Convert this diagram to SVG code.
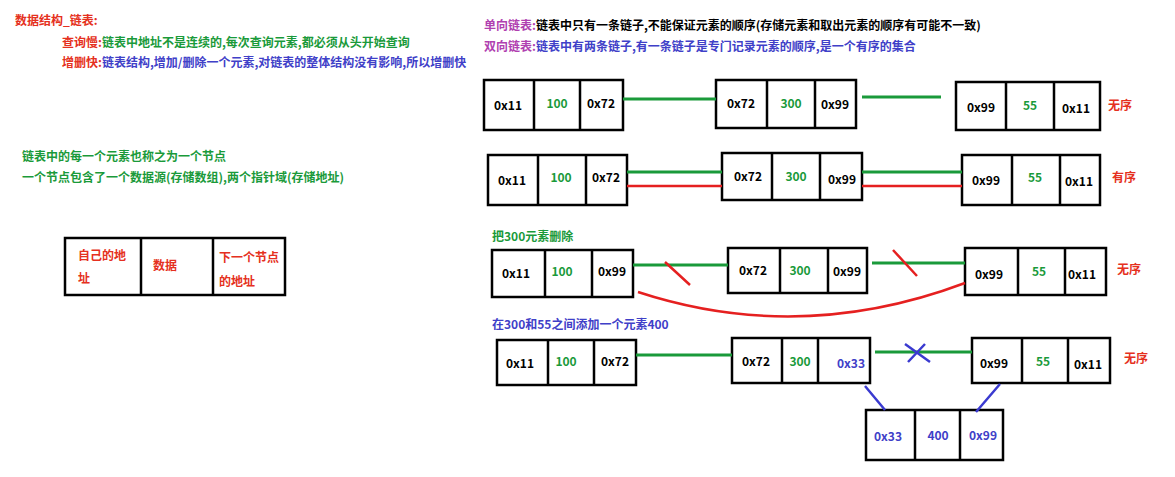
<svg xmlns="http://www.w3.org/2000/svg" width="1175" height="477" viewBox="0 0 1175 477">
<style>
text{font-family:"Noto Sans CJK SC","Liberation Sans",sans-serif;font-size:12px;font-weight:bold}
.b{fill:none;stroke:#000;stroke-width:2.5}
.r{fill:#e53020}.g{fill:#1a9a3a}.u{fill:#4040c8}.p{fill:#b040b0}.k{fill:#000}
.lg{stroke:#1a9a3a;stroke-width:3;fill:none}.lr{stroke:#e52020;stroke-width:2.5;fill:none}.lb{stroke:#3a3ad0;stroke-width:2.5;fill:none}
.c{text-anchor:middle}
</style>
<rect width="1175" height="477" fill="#fff"/>
<g id="notes">
<text x="15" y="25" class="r">数据结构_链表:</text>
<text x="62" y="47"><tspan class="r">查询慢:</tspan><tspan class="g">链表中地址不是连续的,每次查询元素,都必须从头开始查询</tspan></text>
<text x="62" y="67"><tspan class="r">增删快:</tspan><tspan class="u">链表结构,增加/删除一个元素,对链表的整体结构没有影响,所以增删快</tspan></text>
<text x="484" y="30"><tspan class="p">单向链表:</tspan><tspan class="k">链表中只有一条链子,不能保证元素的顺序(存储元素和取出元素的顺序有可能不一致)</tspan></text>
<text x="484" y="51"><tspan class="p">双向链表:</tspan><tspan class="u">链表中有两条链子,有一条链子是专门记录元素的顺序,是一个有序的集合</tspan></text>
<text x="22" y="161" class="g">链表中的每一个元素也称之为一个节点</text>
<text x="22" y="182" class="g">一个节点包含了一个数据源(存储数组),两个指针域(存储地址)</text>
<text x="492" y="241" class="g">把300元素删除</text>
<text x="492" y="329" class="u">在300和55之间添加一个元素400</text>
<text x="1108" y="110" class="r">无序</text>
<text x="1112" y="182" class="r">有序</text>
<text x="1117" y="274" class="r">无序</text>
<text x="1124" y="363" class="r">无序</text>
</g>
<g id="node-legend">
<rect x="65" y="238" width="220" height="57" class="b"/><path d="M141 238V295M213 238V295" class="b"/>
<text x="78" y="260" class="r">自己的地</text><text x="78" y="283" class="r">址</text>
<text x="153" y="270" class="r">数据</text>
<text x="219" y="262" class="r">下一个节点</text><text x="219" y="286" class="r">的地址</text>
</g>
<g id="row1">
<rect x="484" y="80" width="139" height="50" class="b"/><path d="M534 80V130M580 80V130" class="b"/>
<text x="508" y="110" class="k c">0x11</text><text x="557" y="108" class="g c">100</text><text x="601" y="108" class="k c">0x72</text>
<rect x="716" y="80" width="140" height="48" class="b"/><path d="M767 80V128M815 80V128" class="b"/>
<text x="741" y="108" class="k c">0x72</text><text x="791" y="108" class="g c">300</text><text x="835" y="109" class="k c">0x99</text>
<rect x="956" y="82" width="144" height="48" class="b"/><path d="M1006 82V130M1054 82V130" class="b"/>
<text x="981" y="112" class="k c">0x99</text><text x="1030" y="110" class="g c">55</text><text x="1076" y="113" class="k c">0x11</text>
</g>
<g id="row2">
<rect x="488" y="155" width="139" height="50" class="b"/><path d="M538 155V205M586 155V205" class="b"/>
<text x="512" y="185" class="k c">0x11</text><text x="561" y="182" class="g c">100</text><text x="606" y="182" class="k c">0x72</text>
<rect x="722" y="153" width="140" height="47" class="b"/><path d="M772 153V200M820 153V200" class="b"/>
<text x="748" y="181" class="k c">0x72</text><text x="796" y="181" class="g c">300</text><text x="842" y="184" class="k c">0x99</text>
<rect x="962" y="155" width="138" height="50" class="b"/><path d="M1012 155V205M1060 155V205" class="b"/>
<text x="986" y="185" class="k c">0x99</text><text x="1035" y="182" class="g c">55</text><text x="1079" y="186" class="k c">0x11</text>
</g>
<g id="row3">
<rect x="492" y="250" width="141" height="47" class="b"/><path d="M545 250V297M592 250V297" class="b"/>
<text x="516" y="278" class="k c">0x11</text><text x="562" y="276" class="g c">100</text><text x="612" y="276" class="k c">0x99</text>
<rect x="728" y="248" width="139" height="45" class="b"/><path d="M780 248V293M828 248V293" class="b"/>
<text x="753" y="275" class="k c">0x72</text><text x="800" y="275" class="g c">300</text><text x="847" y="276" class="k c">0x99</text>
<rect x="965" y="248" width="141" height="47" class="b"/><path d="M1018 248V295M1065 248V295" class="b"/>
<text x="989" y="279" class="k c">0x99</text><text x="1039" y="276" class="g c">55</text><text x="1082" y="279" class="k c">0x11</text>
</g>
<g id="row4">
<rect x="497" y="340" width="139" height="45" class="b"/><path d="M548 340V385M594 340V385" class="b"/>
<text x="520" y="368" class="k c">0x11</text><text x="566" y="366" class="g c">100</text><text x="615" y="366" class="k c">0x72</text>
<rect x="732" y="338" width="138" height="45" class="b"/><path d="M782 338V383M818 338V383" class="b"/>
<text x="756" y="366" class="k c">0x72</text><text x="800" y="366" class="g c">300</text><text x="851" y="368" class="u c">0x33</text>
<rect x="972" y="338" width="138" height="45" class="b"/><path d="M1022 338V383M1068 338V383" class="b"/>
<text x="994" y="368" class="k c">0x99</text><text x="1043" y="366" class="g c">55</text><text x="1088" y="369" class="k c">0x11</text>
<rect x="866" y="410" width="137" height="50" class="b"/><path d="M915 410V460M960 410V460" class="b"/>
<text x="888" y="441" class="u c">0x33</text><text x="938" y="440" class="u c">400</text><text x="983" y="440" class="u c">0x99</text>
</g>
<g id="connectors">
<path d="M623 99H716M862 97H941" class="lg"/>
<path d="M627 172H722M862 172H962" class="lg"/>
<path d="M627 186H722M862 186H962" class="lr"/>
<path d="M633 265H728M872 263H965" class="lg"/>
<path d="M665 262L690 285M893 250L917 276" class="lr"/>
<path d="M638 292Q800 345 965 283" class="lr"/>
<path d="M636 355H732M875 352H972" class="lg"/>
<path d="M905 344L930 362M925 344L908 362" class="lb"/>
<path d="M865 386L885 410M1000 384L976 412" class="lb"/>
</g>
</svg>
